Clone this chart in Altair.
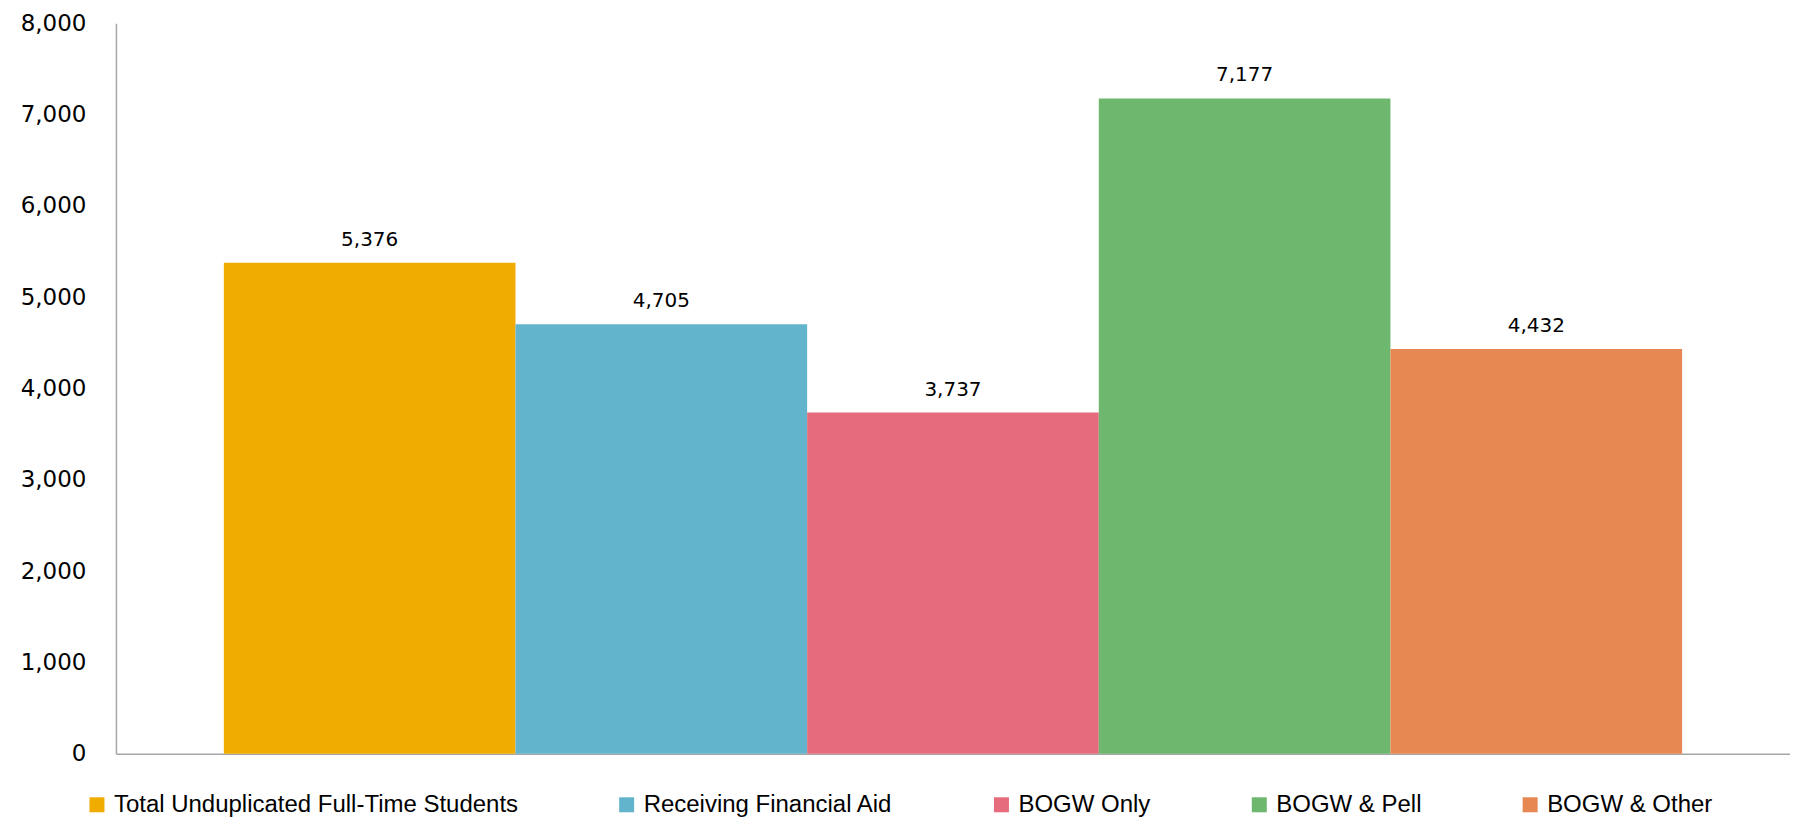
import altair as alt
import pandas as pd

categories = [
    "Total Unduplicated Full-Time Students",
    "Receiving Financial Aid",
    "BOGW Only",
    "BOGW & Pell",
    "BOGW & Other",
]
values = [5376, 4705, 3737, 7177, 4432]
colors = ["#F0AC00", "#62B4CC", "#E56B7D", "#6DB76F", "#E78853"]
y_ticks = [0, 1000, 2000, 3000, 4000, 5000, 6000, 7000, 8000]

df = pd.DataFrame({"series": categories, "value": values})

x_enc = alt.X(
    "series:N",
    sort=categories,
    scale=alt.Scale(paddingInner=0, paddingOuter=0.37),
    axis=alt.Axis(labels=False, ticks=False, title=None, domainColor="#A6A6A6", domainWidth=1.5),
)
y_enc = alt.Y(
    "value:Q",
    scale=alt.Scale(domain=[0, 8000], nice=False),
    axis=alt.Axis(
        values=y_ticks,
        format=",d",
        title=None,
        ticks=False,
        grid=False,
        labelPadding=30,
        labelFont="DejaVu Sans",
        labelFontSize=23,
        labelColor="#000000",
        domainColor="#A6A6A6",
        domainWidth=1.5,
    ),
)

bars = alt.Chart(df).mark_bar().encode(
    x=x_enc,
    y=y_enc,
    color=alt.Color(
        "series:N",
        sort=categories,
        scale=alt.Scale(domain=categories, range=colors),
        legend=alt.Legend(
            title=None,
            orient="none",
            legendX=-31,
            legendY=770,
            direction="horizontal",
            columns=5,
            symbolType="square",
            symbolSize=225,
            symbolStrokeWidth=0,
            symbolOpacity=1,
            labelFont="Liberation Sans",
            labelFontSize=24,
            labelColor="#000000",
            labelOffset=5,
            columnPadding=96,
            labelLimit=600,
        ),
    ),
)

labels = alt.Chart(df).mark_text(
    baseline="bottom", dy=-13, font="DejaVu Sans", fontSize=20, color="#000000"
).encode(
    x=alt.X("series:N", sort=categories),
    y=alt.Y("value:Q"),
    text=alt.Text("value:Q", format=",d"),
)

chart = (
    alt.layer(bars, labels)
    .properties(
        width=1675,
        height=731,
        autosize=alt.AutoSizeParams(type="none"),
        padding={"left": 108, "top": 15, "right": 0, "bottom": 64},
    )
    .configure_view(stroke=None)
)

chart.save("out.html", embed_options={"renderer": "svg", "actions": False})
